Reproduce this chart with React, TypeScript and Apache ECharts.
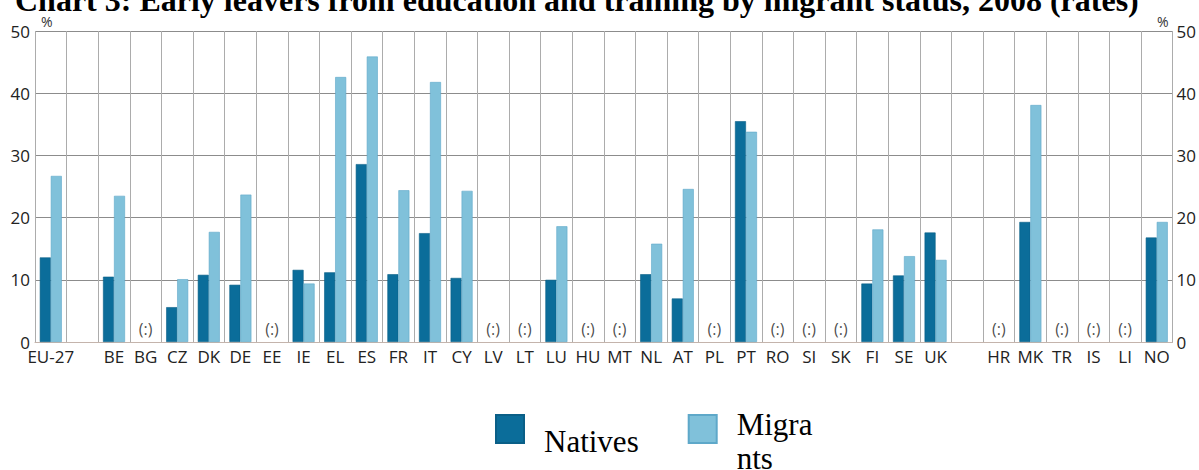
import React, { useEffect, useRef } from "react";
import * as echarts from "echarts";

const TITLE = "Chart 3: Early leavers from education and training by migrant status, 2008 (rates)";

const categories = [
  "EU-27", "", "BE", "BG", "CZ", "DK", "DE", "EE", "IE", "EL", "ES", "FR", "IT", "CY",
  "LV", "LT", "LU", "HU", "MT", "NL", "AT", "PL", "PT", "RO", "SI", "SK", "FI", "SE",
  "UK", "", "HR", "MK", "TR", "IS", "LI", "NO",
];

const natives = [
  13.6, null, 10.5, null, 5.6, 10.8, 9.2, null, 11.6, 11.2, 28.6, 10.9, 17.5, 10.3,
  null, null, 10.0, null, null, 10.9, 7.0, null, 35.5, null, null, null, 9.4, 10.7,
  17.6, null, null, 19.3, null, null, null, 16.8,
];

const migrants = [
  26.7, null, 23.5, null, 10.1, 17.7, 23.7, null, 9.4, 42.6, 45.9, 24.4, 41.8, 24.3,
  null, null, 18.6, null, null, 15.8, 24.6, null, 33.8, null, null, null, 18.1, 13.8,
  13.2, null, null, 38.1, null, null, null, 19.3,
];

const yTicks = { min: 0, max: 50, interval: 10 };
const MISSING_TEXT = "(:)";

export default function App() {
  const ref = useRef<HTMLDivElement>(null);

  useEffect(() => {
    if (!ref.current) return;
    const chart = echarts.init(ref.current, null, { renderer: "svg" });
    const labelFont = "'Open Sans', 'Noto Sans', sans-serif";
    const serif = "'Liberation Serif', 'Times New Roman', serif";
    const markY = 2.1;
    const missing = categories.map((c, i) =>
      c !== "" && natives[i] == null && migrants[i] == null ? markY : null
    );

    chart.setOption({
      animation: false,
      title: {
        text: TITLE,
        left: 15,
        top: -16,
        padding: 0,
        textStyle: { fontFamily: serif, fontWeight: "bold", fontSize: 32, color: "#000" },
      },
      legend: {
        data: ["Natives", "Migrants"],
        left: 495,
        top: 390,
        padding: 0,
        icon: "rect",
        itemWidth: 28,
        itemHeight: 28,
        itemGap: 49,
        selectedMode: false,
        formatter: (n: string) =>
          n === "Migrants" ? "{sp| }\n{t|Migra}\n{t|nts}" : "{sp| }\n{t|" + n + "}",
        textStyle: {
          fontFamily: serif,
          fontSize: 31,
          color: "#000",
          padding: [0, 0, 0, 15],
          rich: {
            sp: { fontSize: 10, lineHeight: 24 },
            t: { fontFamily: serif, fontSize: 31, lineHeight: 34, color: "#000" },
          },
        },
      },
      grid: { left: 35, right: 25, top: 31, bottom: 128 },
      xAxis: {
        type: "category",
        data: categories,
        boundaryGap: true,
        axisLine: { show: true, lineStyle: { color: "#c4b4ac", width: 1 } },
        axisTick: { show: false },
        axisLabel: { interval: 0, margin: 6, fontFamily: labelFont, fontSize: 17, color: "#222" },
        splitLine: { show: true, interval: 0, lineStyle: { color: "#acacac", width: 1 } },
      },
      yAxis: [
        {
          type: "value",
          position: "left",
          ...yTicks,
          name: "%",
          nameLocation: "end",
          nameGap: 3,
          nameTextStyle: {
            fontFamily: labelFont, fontSize: 14, color: "#333",
            align: "left", verticalAlign: "bottom", padding: [0, 0, 0, 6],
          },
          axisLine: { show: false },
          axisTick: { show: false },
          axisLabel: { margin: 5, fontFamily: labelFont, fontSize: 17, color: "#222" },
          splitLine: { show: true, lineStyle: { color: "#8c8c8c", width: 1 } },
        },
        {
          type: "value",
          position: "right",
          ...yTicks,
          name: "%",
          nameLocation: "end",
          nameGap: 3,
          nameTextStyle: {
            fontFamily: labelFont, fontSize: 14, color: "#333",
            align: "right", verticalAlign: "bottom", padding: [0, 4, 0, 0],
          },
          axisLine: { show: false },
          axisTick: { show: false },
          axisLabel: { margin: 4, fontFamily: labelFont, fontSize: 17, color: "#222" },
          splitLine: { show: false },
        },
      ],
      series: [
        {
          name: "Natives",
          type: "bar",
          data: natives,
          barWidth: 11,
          barGap: "0%",
          itemStyle: { color: "#0b6d9a", borderColor: "#0a5f87", borderWidth: 0.6 },
        },
        {
          name: "Migrants",
          type: "bar",
          data: migrants,
          barWidth: 11,
          barGap: "0%",
          itemStyle: { color: "#80c1da", borderColor: "#5ea8c9", borderWidth: 0.6 },
        },
        {
          name: "missing",
          type: "scatter",
          data: missing,
          symbolSize: 1,
          itemStyle: { color: "rgba(0,0,0,0)" },
          label: {
            show: true,
            position: "inside",
            formatter: () => MISSING_TEXT,
            fontFamily: labelFont,
            fontSize: 16,
            color: "#222",
          },
          silent: true,
        },
      ],
    });
    return () => chart.dispose();
  }, []);

  return (
    <div
      ref={ref}
      style={{ position: "fixed", left: 0, top: 0, width: 1199, height: 470, background: "#fff" }}
    />
  );
}
